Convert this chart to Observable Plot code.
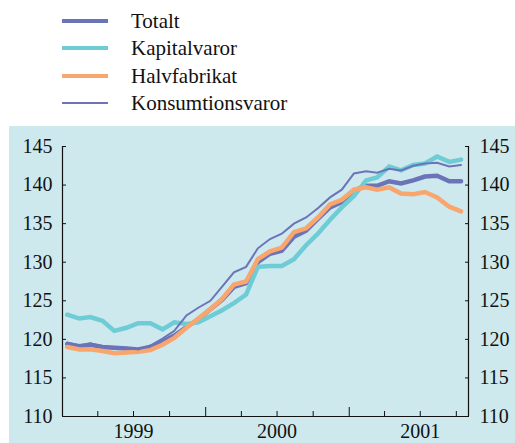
<!DOCTYPE html>
<html><head><meta charset="utf-8">
<script src="https://cdn.jsdelivr.net/npm/d3@7"></script>
<script src="https://cdn.jsdelivr.net/npm/@observablehq/plot@0.6"></script>
<style>
body{margin:0;background:#fff;font-family:"Liberation Serif","Times New Roman",serif;}
#legend{position:relative;height:126px;width:515px;background:#fff;}
.row{position:absolute;left:0;height:28px;width:515px;font-size:21px;color:#111;}
.sw{position:absolute;left:62px;width:46px;}
.lab{position:absolute;left:131px;top:0;line-height:28px;white-space:nowrap;}
#chart{margin-left:9px;width:506px;height:317px;background:#cde9ee;}
</style></head><body>
<div id="legend"></div><div id="chart"></div>
<script>
const months = ["1999-01","1999-02","1999-03","1999-04","1999-05","1999-06","1999-07","1999-08","1999-09","1999-10","1999-11","1999-12",
"2000-01","2000-02","2000-03","2000-04","2000-05","2000-06","2000-07","2000-08","2000-09","2000-10","2000-11","2000-12",
"2001-01","2001-02","2001-03","2001-04","2001-05","2001-06","2001-07","2001-08","2001-09","2001-10"];
const totalt = [119.4,119.1,119.3,119.0,118.9,118.8,118.7,119.0,119.7,120.5,121.6,122.6,123.9,125.2,126.8,127.3,130.0,131.1,131.5,133.3,134.1,135.6,137.1,137.8,139.3,139.9,139.9,140.5,140.2,140.6,141.1,141.2,140.5,140.5];
const kapitalvaror = [123.2,122.7,122.9,122.4,121.1,121.5,122.1,122.1,121.3,122.2,122.0,122.2,123.0,123.8,124.7,125.8,129.4,129.5,129.5,130.4,132.2,133.7,135.5,137.1,138.6,140.6,141.0,142.4,141.9,142.6,142.8,143.7,143.0,143.3];
const halvfabrikat = [119.0,118.7,118.7,118.5,118.2,118.3,118.4,118.6,119.3,120.2,121.5,122.7,123.9,125.3,127.1,127.5,130.4,131.4,131.9,133.9,134.4,135.8,137.5,138.1,139.4,139.7,139.4,139.7,138.9,138.8,139.1,138.4,137.2,136.6];
const konsumtionsvaror = [119.6,119.2,119.5,119.1,118.9,118.9,118.7,119.2,120.1,121.1,123.1,124.1,125.0,126.9,128.7,129.4,131.8,133.0,133.7,135.0,135.8,137.0,138.4,139.4,141.5,141.8,141.6,142.1,141.9,142.5,142.8,142.9,142.4,142.6];
const seriesNames = ["Totalt","Kapitalvaror","Halvfabrikat","Konsumtionsvaror"];
const yTicks = [110,115,120,125,130,135,140,145];
const minorTickMonths = ["1999-04","1999-07","1999-10","2000-04","2000-07","2000-10","2001-04","2001-07","2001-10"];
const majorTickMonths = ["2000-01","2001-01"];
const yearLabelMonths = ["1999-07","2000-07","2001-07"];
const xDomainMonths = ["1999-01","2001-11"];

const colors = {"Totalt":"#6c74b8","Kapitalvaror":"#6dccd5","Halvfabrikat":"#f9a56e","Konsumtionsvaror":"#6c74b8"};
const widths = {"Totalt":4.5,"Kapitalvaror":4.5,"Halvfabrikat":4.5,"Konsumtionsvaror":2};

const pm = d3.utcParse("%Y-%m");
const valuesBy = {"Totalt":totalt,"Kapitalvaror":kapitalvaror,"Halvfabrikat":halvfabrikat,"Konsumtionsvaror":konsumtionsvaror};
const mid = m => d3.utcDay.offset(pm(m), 12);

// legend
const legend = document.getElementById("legend");
seriesNames.forEach((name, k) => {
  const row = document.createElement("div");
  row.className = "row";
  row.style.top = (7 + k * 27.3) + "px";
  const sw = document.createElement("div");
  sw.className = "sw";
  sw.style.height = (name === "Konsumtionsvaror" ? 2 : 4) + "px";
  sw.style.top = (14 - (name === "Konsumtionsvaror" ? 1 : 2)) + "px";
  sw.style.background = colors[name];
  const lab = document.createElement("div");
  lab.className = "lab";
  lab.textContent = name;
  row.appendChild(sw); row.appendChild(lab);
  legend.appendChild(row);
});

const order = ["Totalt","Kapitalvaror","Halvfabrikat","Konsumtionsvaror"];
const lineMarks = order.map(name => Plot.line(
  valuesBy[name].map((v, i) => ({date: mid(months[i]), value: v})),
  {x: "date", y: "value", stroke: colors[name], strokeWidth: widths[name], strokeLinejoin: "miter", strokeMiterlimit: 2}
));

const chart = Plot.plot({
  width: 506, height: 317,
  marginTop: 20, marginBottom: 27, marginLeft: 53, marginRight: 47,
  style: {background: "transparent", fontFamily: "Liberation Serif, Times New Roman, serif", fontSize: "20px", color: "#111"},
  x: {type: "utc", domain: xDomainMonths.map(pm)},
  y: {domain: [110, 145]},
  marks: [
    ...lineMarks,
    Plot.axisY({anchor: "left", ticks: yTicks, tickSize: -4, tickPadding: 14, tickFormat: d => d, label: null, fontSize: 20, stroke: "#111"}),
    Plot.axisY({anchor: "right", ticks: yTicks, tickSize: -4, tickPadding: 15, tickFormat: d => d, label: null, fontSize: 20, stroke: "#111"}),
    Plot.axisX({anchor: "bottom", ticks: minorTickMonths.map(pm), tickSize: -5, text: null, label: null, stroke: "#111"}),
    Plot.axisX({anchor: "bottom", ticks: majorTickMonths.map(pm), tickSize: -9, text: null, label: null, stroke: "#111"}),
    Plot.axisX({anchor: "bottom", ticks: yearLabelMonths.map(pm), tickSize: 0, tickPadding: 7, tickFormat: d3.utcFormat("%Y"), label: null, fontSize: 20}),
    Plot.ruleY([110], {stroke: "#111", strokeWidth: 1.2}),
    Plot.ruleX(xDomainMonths.map(pm), {stroke: "#111", strokeWidth: 1.2})
  ]
});
document.getElementById("chart").appendChild(chart);
</script>
</body></html>
